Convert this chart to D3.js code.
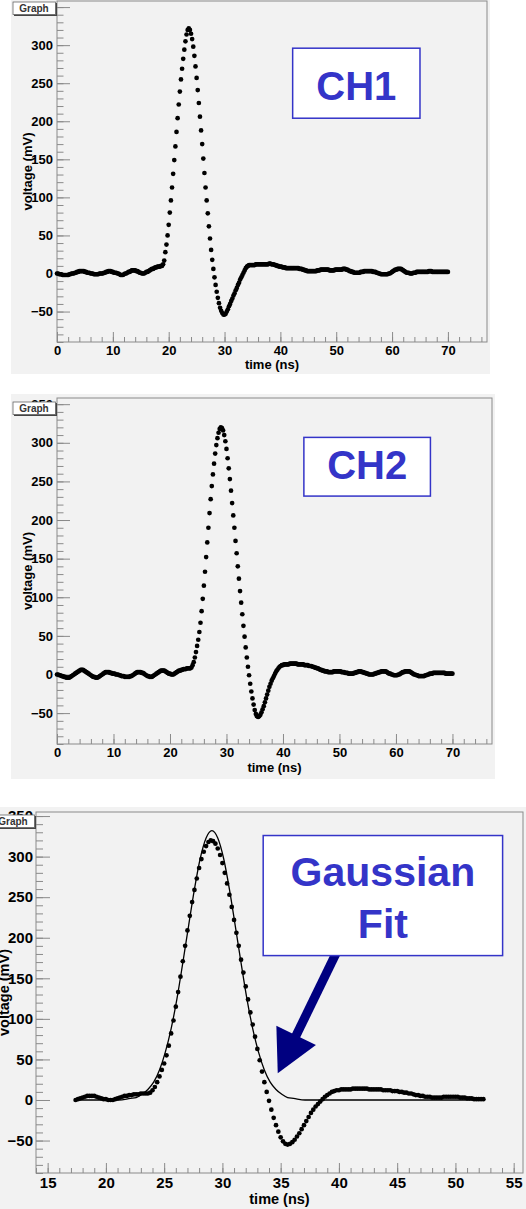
<!DOCTYPE html>
<meta charset="utf-8">
<style>
  body { margin: 0; background: #fff; }
  svg { display: block; font-family: "Liberation Sans", Arial, sans-serif; }
  .tick text { font-weight: bold; fill: #000; }
</style>
<body>
<div id="chart"></div>
<script src="https://d3js.org/d3.v7.min.js"></script>
<script>
// scope samples, one every 0.2 ns starting at t = 0
const sampleStep = 0.2;
const ch1Start = 0;
const ch1Voltage = [
  0,0,-1,-1,-1,-2,-2,-2,-2,-2,-2,-1,-1,0,0,0,1,1,2,2,3,3,3,3,3,
  2,2,1,1,1,0,0,0,-1,-1,-1,-1,-1,0,0,0,0,1,1,2,2,3,3,3,2,
  2,1,1,1,0,0,-1,-2,-2,-2,-1,0,0,1,2,2,3,4,4,4,4,3,3,2,1,
  1,0,0,0,1,2,2,3,4,5,6,6,7,8,8,9,9,9,10,10,12,17,28,38,50,
  64,80,96,113,131,149,167,186,204,222,239,255,269,282,294,305,314,320,322,320,315,308,298,286,272,
  257,241,224,206,188,170,151,132,113,96,79,62,46,31,18,6,-5,-15,-24,-32,-39,-45,-49,-52,-54,
  -54,-53,-50,-47,-43,-40,-36,-33,-29,-26,-22,-19,-15,-12,-8,-5,-2,1,4,7,9,10,11,11,11,
  11,11,11,12,12,12,12,12,12,12,12,12,12,12,12,13,13,12,12,12,11,11,10,10,9,
  9,9,8,8,8,7,7,7,7,7,7,7,7,7,7,7,7,6,6,6,5,5,4,4,3,
  3,3,3,3,3,3,3,3,4,4,4,5,5,5,5,5,5,5,5,4,4,4,4,4,5,
  5,5,5,5,5,5,6,6,6,5,5,4,3,3,2,2,1,1,1,1,1,1,2,2,2,
  3,3,3,3,3,3,3,3,2,2,2,1,1,0,0,-1,-1,-1,-1,-1,-1,-1,0,0,1,
  2,3,4,5,5,6,6,6,6,5,4,3,2,1,1,1,0,0,0,1,1,1,2,2,2,
  2,2,2,2,2,2,2,2,3,3,3,2,2,2,2,2,2,2,2,2,2,2,2,2,2,
  2
];
const ch2Start = 0;
const ch2Voltage = [
  0,0,-1,-1,-2,-2,-3,-3,-4,-4,-4,-4,-3,-2,-1,0,1,2,3,4,5,6,6,6,5,
  4,3,2,1,0,-1,-2,-3,-3,-4,-4,-4,-3,-2,-1,0,1,2,3,3,3,3,2,2,1,
  1,1,0,0,0,-1,-1,-2,-2,-2,-3,-3,-3,-3,-3,-2,-2,-1,0,1,2,3,3,3,3,
  2,2,1,0,-1,-2,-2,-3,-3,-3,-2,-1,0,1,2,3,4,5,5,5,5,4,3,2,1,
  1,0,0,0,1,2,3,4,5,5,6,6,7,7,7,8,8,8,8,9,12,16,22,29,37,
  45,55,67,82,98,115,133,152,171,190,209,227,244,259,273,286,297,306,313,318,320,319,316,310,302,
  292,280,267,253,238,222,206,190,173,157,140,124,108,93,78,63,49,35,22,10,-1,-12,-22,-31,-39,
  -46,-51,-54,-55,-54,-52,-49,-45,-41,-36,-31,-26,-21,-16,-12,-8,-5,-2,1,4,6,8,10,11,12,
  12,13,13,13,13,13,14,14,14,14,14,14,14,13,13,13,13,13,13,12,12,12,12,11,11,
  11,10,10,9,9,8,8,7,6,6,5,5,4,4,4,3,3,3,3,3,4,4,4,4,4,
  4,4,3,3,3,2,2,2,1,1,1,1,1,2,2,3,3,4,4,4,3,3,2,2,1,
  1,0,0,0,0,0,1,1,2,2,3,3,4,4,4,4,4,3,2,1,1,0,0,-1,-1,
  -1,-1,0,0,1,2,3,3,4,4,4,4,4,3,2,1,0,0,-1,-1,-2,-2,-2,-2,-2,
  -2,-1,-1,0,0,1,1,1,2,2,2,2,2,2,2,2,2,2,2,1,1,1,1,1,1,
  1
];

// third plot: CH2 samples inside the fit window, with the gaussian fit curve
const fitWindow = [17.4, 52.4];
const fitTime = [17.4, 19.1, 21.1, 22.1, 22.6, 23.1, 23.6, 24.1, 24.6, 25.1, 25.6, 26.1, 26.6, 27.1, 27.6, 28.1, 28.6,
  29.1, 29.6, 30.1, 30.6, 31.1, 31.6, 32.1, 32.6, 33.1, 33.6, 34.1, 34.6, 35.1, 35.6, 36.1, 37.1, 38.1, 52.4];
const fitVoltage = [0, 0, 0, 2, 3, 7, 13, 22, 37, 59, 88, 125, 169, 215, 260, 298, 323,
  332, 323, 298, 260, 215, 169, 125, 88, 59, 37, 22, 13, 7, 3, 2, 0, 0, 0];

const timeTicksWide = [0, 10, 20, 30, 40, 50, 60, 70];
const timeTicksFit = [15, 20, 25, 30, 35, 40, 45, 50, 55];
const voltageTicks = [-50, 0, 50, 100, 150, 200, 250, 300, 350];

const toPoints = (start, values) =>
  values.map((v, i) => ({ t: +(start + i * sampleStep).toFixed(1), v }));

const ch1 = toPoints(ch1Start, ch1Voltage);
const ch2 = toPoints(ch2Start, ch2Voltage);
const ch2Fit = ch2.filter(d => d.t >= fitWindow[0] - 1e-6 && d.t <= fitWindow[1] + 1e-6);
const fitCurve = fitTime.map((t, i) => ({ t, v: fitVoltage[i] }));

const svg = d3.select("#chart").append("svg")
  .attr("width", 526)
  .attr("height", 1209);

const blue = "#3434c8";

function drawPanel(p) {
  const g = svg.append("g");

  g.append("rect")
    .attr("x", p.canvas[0]).attr("y", p.canvas[1])
    .attr("width", p.canvas[2]).attr("height", p.canvas[3])
    .attr("fill", "#f2f2f2");

  const x = d3.scaleLinear().domain(p.xDomain).range([p.frame.left, p.frame.right]);
  const y = d3.scaleLinear().domain(p.yDomain).range([p.frame.bottom, p.frame.top]);

  g.append("rect")
    .attr("x", p.frame.left).attr("y", p.frame.top)
    .attr("width", p.frame.right - p.frame.left)
    .attr("height", p.frame.bottom - p.frame.top)
    .attr("fill", "#f2f2f2")
    .attr("stroke", "#8a8a8a");

  // minor ticks
  g.append("g")
    .attr("transform", `translate(0,${p.frame.bottom})`)
    .attr("color", "#8a8a8a")
    .call(d3.axisBottom(x).tickValues(d3.range(p.xDomain[0], p.xDomain[1], p.xMinor))
      .tickSizeInner(-p.xTick / 2).tickSizeOuter(0).tickFormat(""))
    .call(a => a.select(".domain").remove());
  g.append("g")
    .attr("transform", `translate(${p.frame.left},0)`)
    .attr("color", "#8a8a8a")
    .call(d3.axisLeft(y).tickValues(d3.range(-90, p.yDomain[1], 10))
      .tickSizeInner(-p.yTick / 2).tickSizeOuter(0).tickFormat(""))
    .call(a => a.select(".domain").remove());

  // major ticks + labels
  g.append("g")
    .attr("transform", `translate(0,${p.frame.bottom})`)
    .attr("color", "#8a8a8a")
    .call(d3.axisBottom(x).tickValues(p.xTicks)
      .tickSizeInner(-p.xTick).tickSizeOuter(0).tickPadding(p.xPad))
    .call(a => a.select(".domain").remove())
    .selectAll("text").style("font-size", p.tickFont + "px");
  g.append("g")
    .attr("transform", `translate(${p.frame.left},0)`)
    .attr("color", "#8a8a8a")
    .call(d3.axisLeft(y).tickValues(voltageTicks)
      .tickSizeInner(-p.yTick).tickSizeOuter(0).tickPadding(p.yPad))
    .call(a => a.select(".domain").remove())
    .selectAll("text").style("font-size", p.tickFont + "px");

  g.append("text")
    .attr("x", (p.frame.left + p.frame.right) / 2)
    .attr("y", p.frame.bottom + p.xTitleOff)
    .attr("text-anchor", "middle")
    .style("font-size", p.titleFont + "px").style("font-weight", "bold")
    .text("time (ns)");
  g.append("text")
    .attr("transform", `translate(${p.frame.left - p.yTitleOff},${(p.frame.top + p.frame.bottom) / 2}) rotate(-90)`)
    .attr("text-anchor", "middle")
    .attr("dy", "0.35em")
    .style("font-size", p.titleFont + "px").style("font-weight", "bold")
    .text("voltage (mV)");

  // samples
  g.append("g").selectAll("circle")
    .data(p.points)
    .join("circle")
    .attr("cx", d => x(d.t))
    .attr("cy", d => y(d.v))
    .attr("r", 2.35)
    .attr("fill", "#000");

  if (p.fit) {
    g.append("path")
      .datum(p.fit)
      .attr("fill", "none")
      .attr("stroke", "#000")
      .attr("stroke-width", 1.3)
      .attr("d", d3.line().x(d => x(d.t)).y(d => y(d.v)).curve(d3.curveMonotoneX));
  }

  if (p.arrow) {
    const a = p.arrow;
    const tip = [x(a.tip[0]), y(a.tip[1])];
    const tail = [x(a.tail[0]), y(a.tail[1])];
    const len = Math.hypot(tip[0] - tail[0], tip[1] - tail[1]);
    const ux = (tip[0] - tail[0]) / len, uy = (tip[1] - tail[1]) / len;
    const base = [tip[0] - ux * 42, tip[1] - uy * 42];
    g.append("line")
      .attr("x1", tail[0]).attr("y1", tail[1])
      .attr("x2", base[0] + ux * 2).attr("y2", base[1] + uy * 2)
      .attr("stroke", "#000080").attr("stroke-width", 9);
    g.append("path")
      .attr("fill", "#000080")
      .attr("d", `M${tip}L${base[0] - uy * 22},${base[1] + ux * 22}L${base[0] + uy * 22},${base[1] - ux * 22}Z`);
  }

  // label box
  const b = p.label;
  g.append("rect")
    .attr("x", x(b.t[0])).attr("y", y(b.v[0]))
    .attr("width", x(b.t[1]) - x(b.t[0]))
    .attr("height", y(b.v[1]) - y(b.v[0]))
    .attr("fill", "#fff")
    .attr("stroke", blue)
    .attr("stroke-width", 1.5);
  b.lines.forEach(l => {
    g.append("text")
      .attr("x", x((b.t[0] + b.t[1]) / 2))
      .attr("y", y(l.v))
      .attr("text-anchor", "middle")
      .attr("fill", blue)
      .style("font-size", b.font + "px").style("font-weight", "bold")
      .text(l.text);
  });

  // ROOT "Graph" title box
  const gx = p.frame.left - 44, gy = p.frame.top + p.graphOff;
  g.append("rect")
    .attr("x", gx + 1).attr("y", gy + 1).attr("width", 43).attr("height", 13)
    .attr("fill", "#444");
  g.append("rect")
    .attr("x", gx).attr("y", gy).attr("width", 42.5).attr("height", 12.5)
    .attr("fill", "#fff").attr("stroke", "#666").attr("stroke-width", 0.8);
  g.append("text")
    .attr("x", gx + 21).attr("y", gy + 10)
    .attr("text-anchor", "middle")
    .attr("fill", "#333")
    .style("font-size", "10px").style("font-weight", "bold")
    .text("Graph");
}

drawPanel({
  canvas: [11, 0, 479, 374],
  frame: { left: 57, top: 1, right: 487, bottom: 342 },
  xDomain: [0, 77], yDomain: [-90, 358],
  xTicks: timeTicksWide, xMinor: 2,
  xTick: 10, yTick: 13, xPad: 4, yPad: 4,
  tickFont: 13, titleFont: 13, xTitleOff: 27, yTitleOff: 30, graphOff: 1,
  points: ch1,
  label: { t: [42.2, 65.0], v: [296, 204], font: 40, lines: [{ text: "CH1", v: 228 }] }
});

drawPanel({
  canvas: [11, 394, 484, 385],
  frame: { left: 57, top: 398, right: 492, bottom: 744 },
  xDomain: [0, 77], yDomain: [-90, 358],
  xTicks: timeTicksWide, xMinor: 2,
  xTick: 10, yTick: 13, xPad: 4, yPad: 4,
  tickFont: 13, titleFont: 13, xTitleOff: 28, yTitleOff: 30, graphOff: 4,
  points: ch2,
  label: { t: [43.7, 66.1], v: [307, 231], font: 40, lines: [{ text: "CH2", v: 253 }] }
});

drawPanel({
  canvas: [0, 807, 526, 402],
  frame: { left: 36, top: 812, right: 523, bottom: 1173 },
  xDomain: [14, 55.8], yDomain: [-90, 355],
  xTicks: timeTicksFit, xMinor: 1,
  xTick: 10, yTick: 14, xPad: 4.5, yPad: 3,
  tickFont: 15, titleFont: 14.5, xTitleOff: 31, yTitleOff: 32, graphOff: 3,
  points: ch2Fit,
  fit: fitCurve,
  arrow: { tail: [39.8, 182], tip: [34.75, 33] },
  label: { t: [33.5, 54.05], v: [326, 178], font: 41,
    lines: [{ text: "Gaussian", v: 264 }, { text: "Fit", v: 200 }] }
});
</script>
